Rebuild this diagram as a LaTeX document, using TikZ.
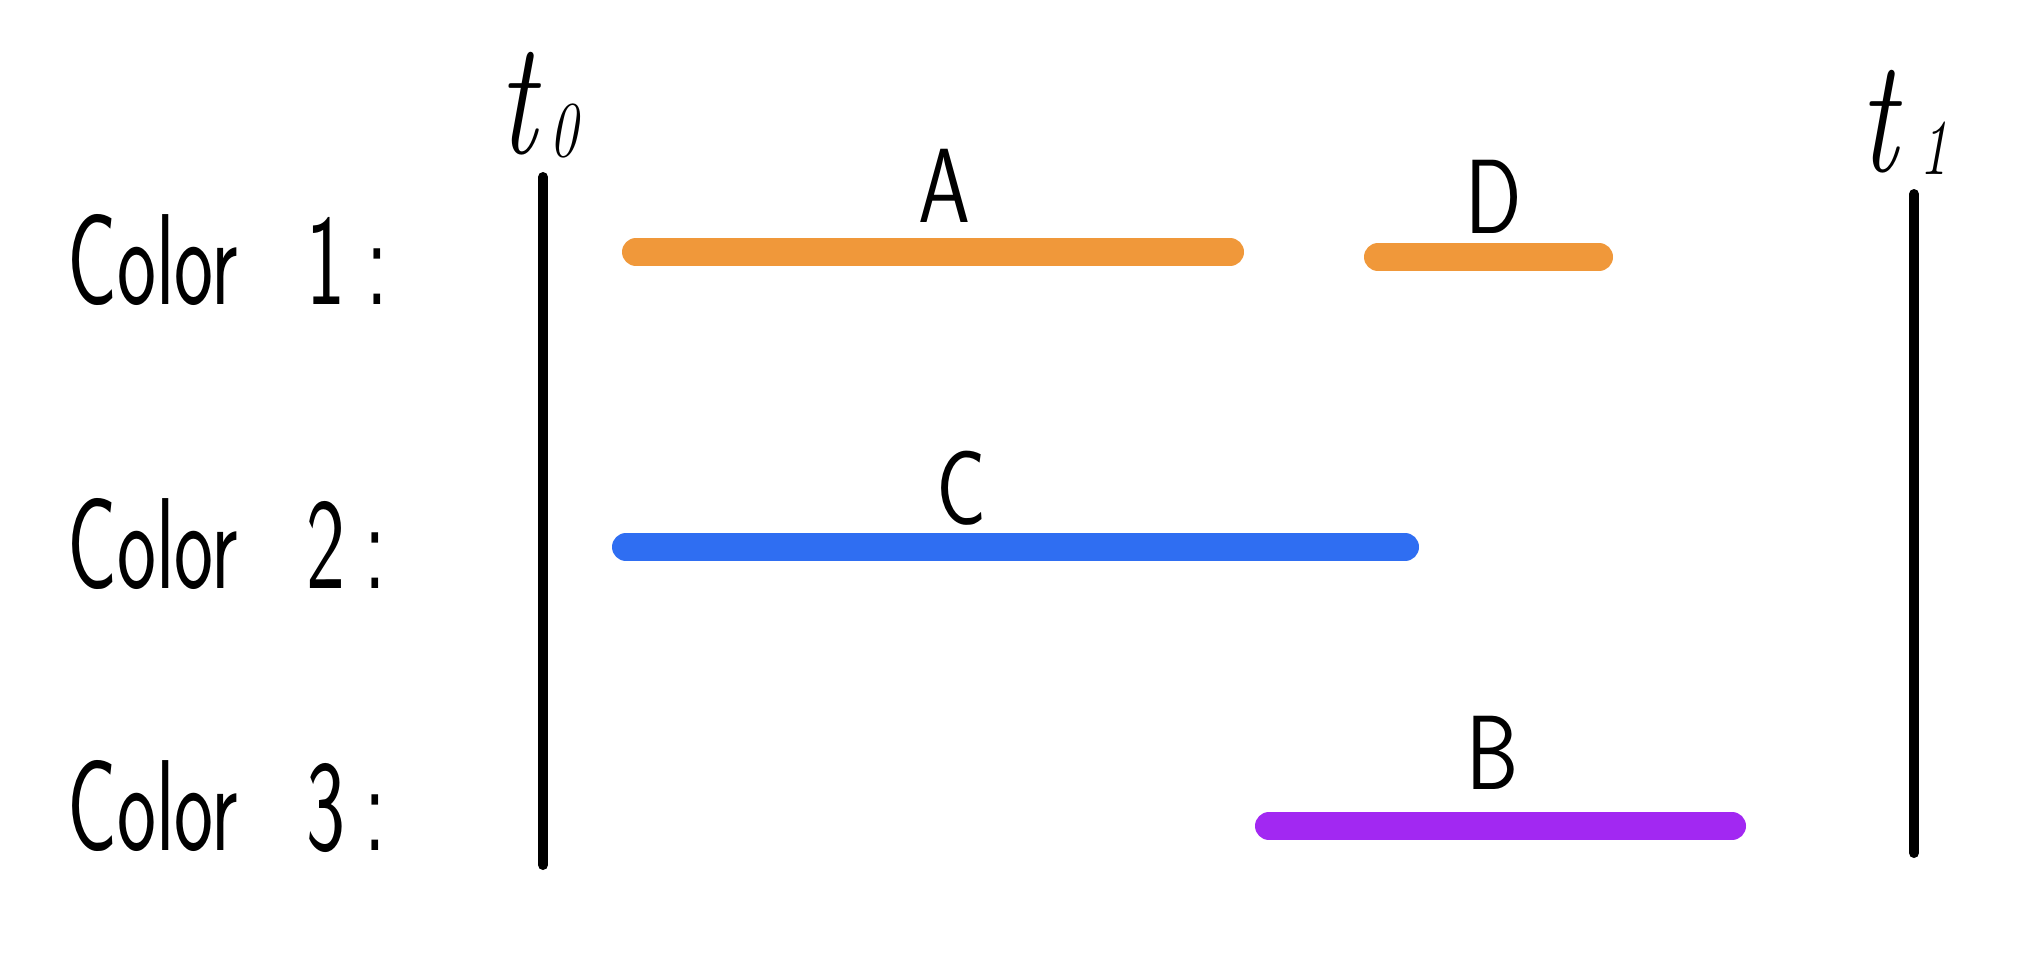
\documentclass[tikz,border=0pt]{standalone}
\definecolor{barorange}{HTML}{F0983A}
\definecolor{barblue}{HTML}{2F6EF2}
\definecolor{barpurple}{HTML}{A228F2}
\newcommand{\handtxt}[3]{\scalebox{#1}[#2]{#3}}
\newcommand{\tsub}[1]{{\itshape t}\hspace{5pt}\raisebox{-1pt}{\fontsize{22}{24}\selectfont\itshape #1}}
\tikzset{
  hand/.style={inner sep=0pt, font=\sffamily},
  rowlabel/.style={hand, anchor=base west, font=\sffamily\fontsize{36}{40}\selectfont},
  timelabel/.style={hand, anchor=base west, font=\fontsize{45}{50}\selectfont},
  barlabel/.style={hand, anchor=base, font=\sffamily\fontsize{32}{36}\selectfont},
  timeline/.style={line width=5pt, line cap=round, black},
  bar/.style={line width=14pt, line cap=round},
}
\begin{document}
\begin{tikzpicture}[x=0.5pt, y=-0.5pt]
\useasboundingbox (0,0) rectangle (2028,976);
% row labels
\node[rowlabel] (c1) at (67,304) {\handtxt{1.15}{1.8}{Color\hspace{30pt}1\hspace{9pt}:}};
\node[rowlabel] (c2) at (67,588) {\handtxt{1.15}{1.8}{Color\hspace{30pt}2\hspace{8pt}:}};
\node[rowlabel] (c3) at (67,850) {\handtxt{1.15}{1.8}{Color\hspace{30pt}3\hspace{8pt}:}};
% time labels
\node[timelabel] (t0) at (498,153) {\handtxt{1.3}{1.8}{\tsub{0}}};
\node[timelabel] (t1) at (1859,171) {\handtxt{1.3}{1.8}{\tsub{\,1}}};
% time lines
\coordinate (l0a) at (543,177);
\coordinate (l0b) at (543,865);
\coordinate (l1a) at (1914,194);
\coordinate (l1b) at (1914,853);
\draw[timeline] (l0a) -- (l0b);
\draw[timeline] (l1a) -- (l1b);
% bars
\coordinate (aS) at (636,252);  \coordinate (aE) at (1230,252);
\coordinate (dS) at (1378,257); \coordinate (dE) at (1599,257);
\coordinate (cS) at (626,547);  \coordinate (cE) at (1405,547);
\coordinate (bS) at (1269,826); \coordinate (bE) at (1732,826);
\draw[bar, barorange] (aS) -- (aE);
\draw[bar, barorange] (dS) -- (dE);
\draw[bar, barblue] (cS) -- (cE);
\draw[bar, barpurple] (bS) -- (bE);
% bar labels
\node[barlabel] (A) at (944,222) {\handtxt{1.3}{1.65}{A}};
\node[barlabel] (D) at (1494,233) {\handtxt{1.3}{1.65}{D}};
\node[barlabel] (C) at (961,524) {\handtxt{1.3}{1.65}{C}};
\node[barlabel] (B) at (1493,789) {\handtxt{1.3}{1.65}{B}};
\end{tikzpicture}
\end{document}
